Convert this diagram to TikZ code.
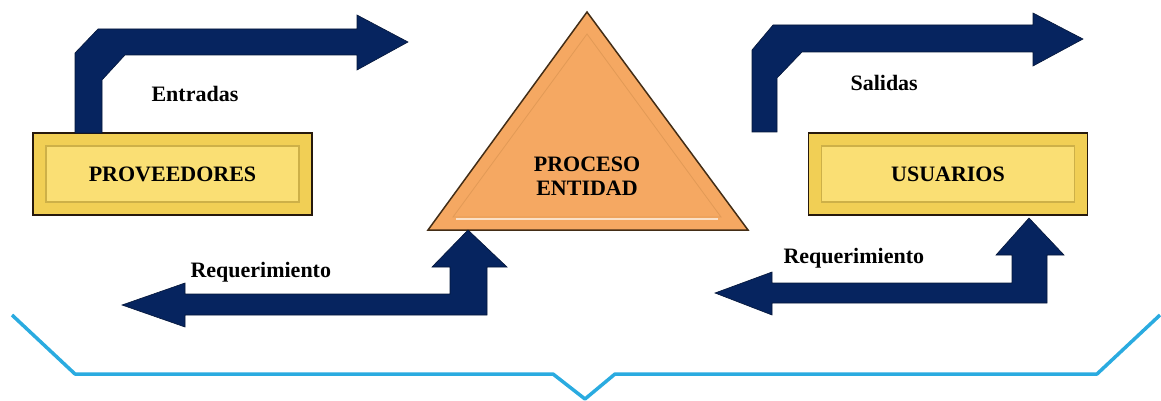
\documentclass[tikz,border=0pt]{standalone}
\usepackage{fontspec}
\setmainfont{Liberation Serif}
\definecolor{azulflecha}{HTML}{06245F}
\definecolor{oro}{HTML}{F1CF55}
\definecolor{orobisel}{HTML}{FADF74}
\definecolor{naranja}{HTML}{F5A862}
\definecolor{celeste}{HTML}{2AABE0}
\begin{document}
\begin{tikzpicture}[x=1pt,y=-1pt,
  caja/.style={draw=black!80!brown, line width=1.5pt, fill=oro,
    minimum width=279pt, minimum height=82pt,
    font=\fontsize{22}{24}\selectfont\bfseries,
    path picture={\draw[oro!85!black, fill=orobisel]
      ([shift={(13,13)}]path picture bounding box.north west) rectangle
      ([shift={(-13,-13)}]path picture bounding box.south east);}},
  etiqueta/.style={anchor=base west, font=\fontsize{22}{24}\selectfont\bfseries},
  flecha/.style={fill=azulflecha, draw=azulflecha!60!black, line width=0.6pt}]

  % page frame
  \useasboundingbox (0,0) rectangle (1161,401);

  % the process triangle
  \filldraw[fill=naranja, draw=black!65!brown, line width=1.5pt]
    (587,12) -- (748,230) -- (428,230) -- cycle;
  \draw[naranja!65!brown, line width=0.8pt] (587,34) -- (721,217) -- (453,217) -- cycle;
  \draw[naranja!35!white, line width=2.5pt] (456,219) -- (718,219);
  \node[align=center, font=\fontsize{22}{24}\selectfont\bfseries] (proc) at (587,176)
    {PROCESO\\ENTIDAD};

  % suppliers and users
  \node[caja] (prov) at (172.5,174) {PROVEEDORES};
  \node[caja] (usu) at (948,174) {USUARIOS};

  % inputs: from the suppliers, up and to the right
  \filldraw[flecha] (75,133) -- (75,53) -- (98,29) -- (357,29) -- (357,15)
    -- (408,42) -- (357,70) -- (357,55) -- (125,55) -- (102,80) -- (102,133) -- cycle;
  \node[etiqueta] (ent) at (148,102) {Entradas};

  % outputs: above the users
  \filldraw[flecha] (752,132) -- (752,50) -- (773,25) -- (1033,25) -- (1033,13)
    -- (1083,39) -- (1033,66) -- (1033,52) -- (802,52) -- (777,78) -- (777,132) -- cycle;
  \node[etiqueta] (sal) at (847,91) {Salidas};

  % requirement to the suppliers
  \filldraw[flecha] (468,230) -- (507,267) -- (487,267) -- (487,315) -- (185,315)
    -- (185,327) -- (122,305) -- (185,283) -- (185,294) -- (450,294) -- (450,267)
    -- (432,267) -- cycle;
  \node[etiqueta] (req1) at (187,277) {Requerimiento};

  % requirement from the users
  \filldraw[flecha] (1029,218) -- (1064,255) -- (1047,255) -- (1047,303) -- (772,303)
    -- (772,315) -- (715,293) -- (772,272) -- (772,283) -- (1012,283) -- (1012,255)
    -- (996,255) -- cycle;
  \node[etiqueta] (req2) at (780,263) {Requerimiento};

  % brace under the whole chain
  \draw[celeste, line width=3.5pt, line join=round]
    (12,315) -- (75,374) -- (553,374) -- (585,399) -- (615,374) -- (1097,374) -- (1160,315);

\end{tikzpicture}
\end{document}
